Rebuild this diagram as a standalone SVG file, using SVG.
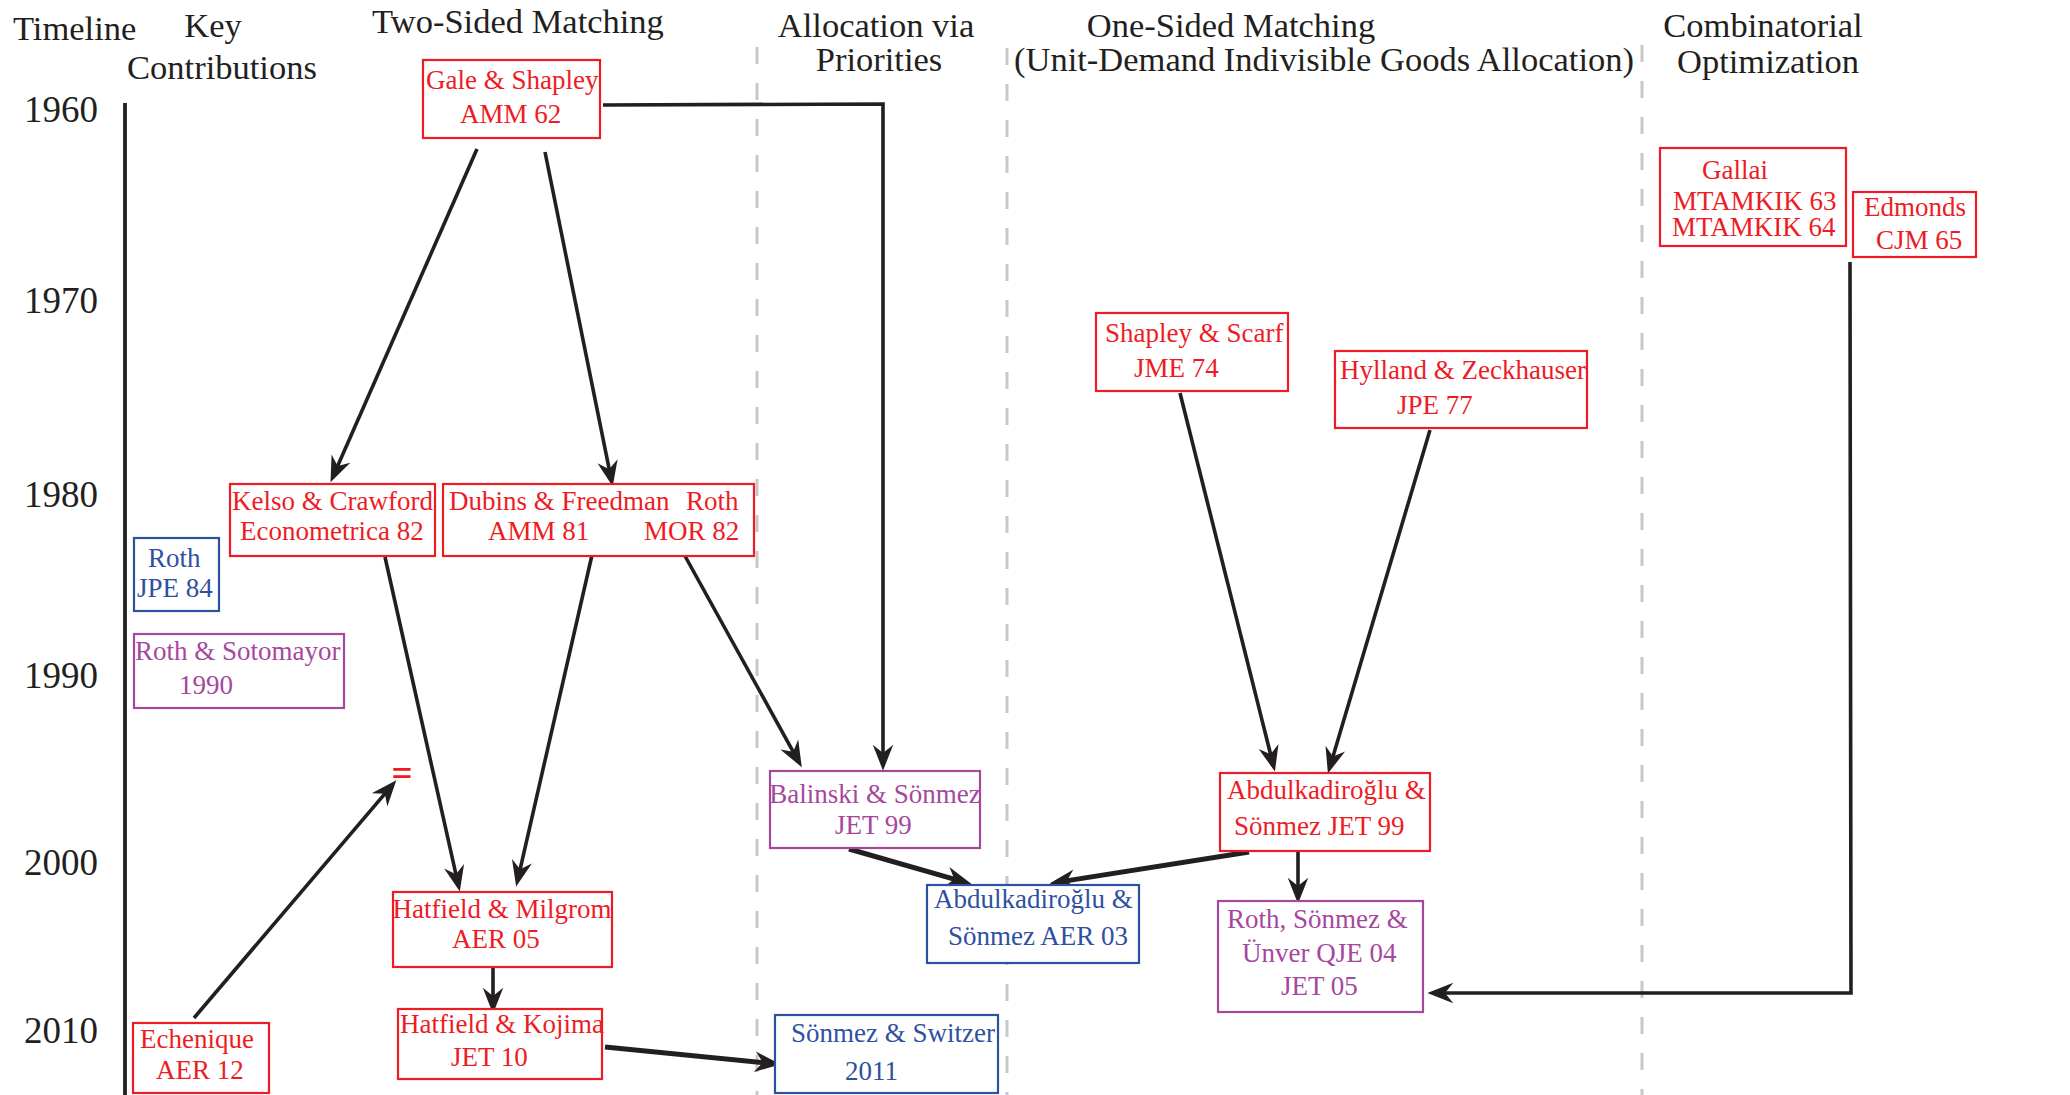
<svg xmlns="http://www.w3.org/2000/svg" width="2070" height="1095" viewBox="0 0 2070 1095">
<style>
text { font-family: "Liberation Serif", "Times New Roman", serif; }
.hdr { font-size: 34.5px; fill: #231f20; }
.yr { font-size: 37px; fill: #231f20; }
.n { font-size: 27px; }
.red text { fill: #ed1c24; }
.red rect { stroke: #ed1c24; }
.blue text { fill: #2e50a0; }
.blue rect { stroke: #2e50a0; }
.pur text { fill: #a5479d; }
.pur rect { stroke: #a5479d; }
rect { fill: #ffffff; stroke-width: 2.2; }
.dash { stroke: #c8c8c8; stroke-width: 3; stroke-dasharray: 17 19; fill: none; }
.c { stroke: #231f20; stroke-width: 3.6; fill: none; marker-end: url(#ah); }
.thick { stroke-width: 5; }
</style>
<defs>
<marker id="ah" markerUnits="userSpaceOnUse" markerWidth="30" markerHeight="30" viewBox="-20 -10 22 20" refX="-10" refY="0" orient="auto" overflow="visible">
<path d="M0,0 L-19,-7.5 L-13,0 L-19,7.5 Z" fill="#231f20"/>
</marker>
</defs>
<rect x="0" y="0" width="2070" height="1095" fill="#ffffff" stroke="none"/>

<g id="columns">
<line class="dash" x1="757" y1="47" x2="757" y2="1095"/>
<line class="dash" x1="1007" y1="48" x2="1007" y2="1095"/>
<line class="dash" x1="1642" y1="45" x2="1642" y2="1095"/>
<line x1="125" y1="103" x2="125" y2="1095" stroke="#231f20" stroke-width="3.8"/>
</g>

<g id="headers">
<text class="hdr" x="13" y="40">Timeline</text>
<text class="hdr" x="213" y="37" text-anchor="middle">Key</text>
<text class="hdr" x="222" y="79" text-anchor="middle">Contributions</text>
<text class="hdr" x="518" y="33" text-anchor="middle">Two-Sided Matching</text>
<text class="hdr" x="876" y="37" text-anchor="middle">Allocation via</text>
<text class="hdr" x="879" y="71" text-anchor="middle">Priorities</text>
<text class="hdr" x="1231" y="37" text-anchor="middle">One-Sided Matching</text>
<text class="hdr" x="1324" y="71" text-anchor="middle">(Unit-Demand Indivisible Goods Allocation)</text>
<text class="hdr" x="1763" y="37" text-anchor="middle">Combinatorial</text>
<text class="hdr" x="1768" y="73" text-anchor="middle">Optimization</text>
</g>

<g id="years">
<text class="yr" x="24" y="122">1960</text>
<text class="yr" x="24" y="313">1970</text>
<text class="yr" x="24" y="507">1980</text>
<text class="yr" x="24" y="688">1990</text>
<text class="yr" x="24" y="875">2000</text>
<text class="yr" x="24" y="1043">2010</text>
</g>

<g id="connectors">
<line class="c" x1="477" y1="149" x2="336" y2="469.8"/>
<line class="c" x1="545" y1="152" x2="610" y2="473.2"/>
<polyline class="c" points="603,105 883,104 883,757"/>
<line class="c" x1="385" y1="557" x2="456.8" y2="878.2"/>
<line class="c" x1="592" y1="555" x2="519.2" y2="873.3"/>
<line class="c" x1="685" y1="556" x2="795.2" y2="755.3"/>
<line class="c" x1="194" y1="1018" x2="387.5" y2="790.6"/>
<line class="c" x1="493" y1="968" x2="493" y2="1000"/>
<line class="c thick" x1="605" y1="1047" x2="767" y2="1063"/>
<line class="c thick" x1="849" y1="849" x2="958.4" y2="880.3"/>
<line class="c thick" x1="1249" y1="852" x2="1062.9" y2="881.4"/>
<line class="c" x1="1298" y1="847" x2="1298" y2="890"/>
<line class="c" x1="1180" y1="393" x2="1271.6" y2="758.3"/>
<line class="c" x1="1430" y1="430" x2="1331.8" y2="760.4"/>
<polyline class="c" stroke-width="4" points="1850,262 1851,993 1441,993"/>
</g>

<g id="gale-shapley" class="red n">
<rect x="423" y="60" width="177" height="78"/>
<text x="426" y="89">Gale &amp; Shapley</text>
<text x="460" y="123">AMM 62</text>
</g>

<g id="gallai" class="red n">
<rect x="1660" y="148" width="186" height="98"/>
<text x="1702" y="179">Gallai</text>
<text x="1673" y="210">MTAMKIK 63</text>
<text x="1672" y="236">MTAMKIK 64</text>
</g>

<g id="edmonds" class="red n">
<rect x="1853" y="192" width="123" height="65"/>
<text x="1864" y="216">Edmonds</text>
<text x="1876" y="249">CJM 65</text>
</g>

<g id="shapley-scarf" class="red n">
<rect x="1096" y="313" width="192" height="78"/>
<text x="1105" y="342">Shapley &amp; Scarf</text>
<text x="1134" y="377">JME 74</text>
</g>

<g id="hylland" class="red n">
<rect x="1335" y="351" width="252" height="77"/>
<text x="1340" y="379">Hylland &amp; Zeckhauser</text>
<text x="1397" y="414">JPE 77</text>
</g>

<g id="kelso" class="red n">
<rect x="230" y="484" width="205" height="72"/>
<text x="232" y="510">Kelso &amp; Crawford</text>
<text x="240" y="540">Econometrica 82</text>
</g>

<g id="dubins-roth" class="red n">
<rect x="443" y="484" width="311" height="72"/>
<text x="449" y="510">Dubins &amp; Freedman<tspan x="686">Roth</tspan></text>
<text x="488" y="540">AMM 81<tspan x="644">MOR 82</tspan></text>
</g>

<g id="roth-jpe84" class="blue n">
<rect x="134" y="538" width="85" height="73"/>
<text x="148" y="567">Roth</text>
<text x="137" y="597">JPE 84</text>
</g>

<g id="roth-sotomayor" class="pur n">
<rect x="134" y="634" width="210" height="74"/>
<text x="135" y="660">Roth &amp; Sotomayor</text>
<text x="179" y="694">1990</text>
</g>

<g id="equals" class="red">
<text x="402" y="786" text-anchor="middle" font-size="37" font-weight="bold">=</text>
</g>

<g id="balinski" class="pur n">
<rect x="770" y="771" width="210" height="77"/>
<text x="875" y="803" text-anchor="middle">Balinski &amp; Sönmez</text>
<text x="835" y="834">JET 99</text>
</g>

<g id="abdul-jet99" class="red n">
<rect x="1220" y="773" width="210" height="78"/>
<text x="1227" y="799">Abdulkadiroğlu &amp;</text>
<text x="1234" y="835">Sönmez JET 99</text>
</g>

<g id="abdul-aer03" class="blue n">
<rect x="927" y="885" width="212" height="78"/>
<text x="934" y="908">Abdulkadiroğlu &amp;</text>
<text x="948" y="945">Sönmez AER 03</text>
</g>

<g id="hatfield-milgrom" class="red n">
<rect x="393" y="892" width="219" height="75"/>
<text x="502" y="918" text-anchor="middle">Hatfield &amp; Milgrom</text>
<text x="452" y="948">AER 05</text>
</g>

<g id="roth-sonmez-unver" class="pur n">
<rect x="1218" y="901" width="205" height="111"/>
<text x="1227" y="928">Roth, Sönmez &amp;</text>
<text x="1242" y="962">Ünver QJE 04</text>
<text x="1281" y="995">JET 05</text>
</g>

<g id="echenique" class="red n">
<rect x="133" y="1023" width="136" height="70"/>
<text x="140" y="1048">Echenique</text>
<text x="156" y="1079">AER 12</text>
</g>

<g id="hatfield-kojima" class="red n">
<rect x="398" y="1009" width="204" height="70"/>
<text x="400" y="1033">Hatfield &amp; Kojima</text>
<text x="451" y="1066">JET 10</text>
</g>

<g id="sonmez-switzer" class="blue n">
<rect x="775" y="1015" width="223" height="78"/>
<text x="791" y="1042">Sönmez &amp; Switzer</text>
<text x="845" y="1080">2011</text>
</g>
</svg>
